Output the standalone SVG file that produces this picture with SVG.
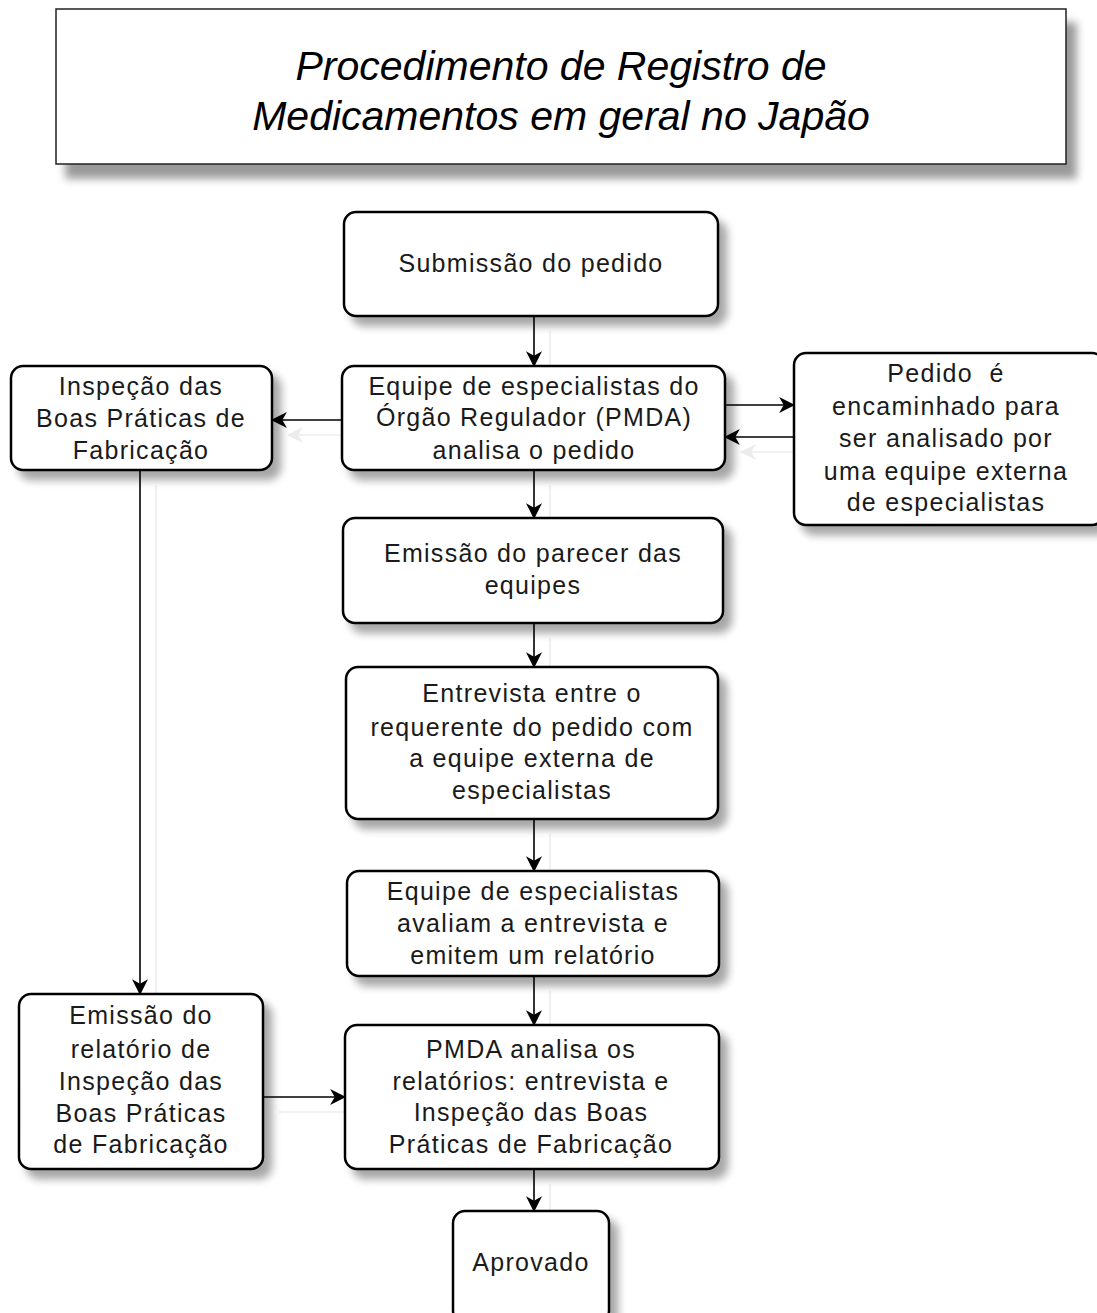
<svg xmlns="http://www.w3.org/2000/svg" width="1097" height="1313" viewBox="0 0 1097 1313">
  <defs>
    <filter id="shadow" x="-10%" y="-10%" width="130%" height="140%">
      <feGaussianBlur in="SourceAlpha" stdDeviation="4"/>
      <feOffset dx="8" dy="9" result="b"/>
      <feComponentTransfer><feFuncA type="linear" slope="0.35"/></feComponentTransfer>
      <feMerge><feMergeNode/><feMergeNode in="SourceGraphic"/></feMerge>
    </filter>
    <filter id="shadowTitle" x="-5%" y="-10%" width="115%" height="150%">
      <feGaussianBlur in="SourceAlpha" stdDeviation="4"/>
      <feOffset dx="10" dy="14" result="b"/>
      <feComponentTransfer><feFuncA type="linear" slope="0.4"/></feComponentTransfer>
      <feMerge><feMergeNode/><feMergeNode in="SourceGraphic"/></feMerge>
    </filter>
    <marker id="arr" viewBox="0 0 14 14" refX="13" refY="7" markerWidth="16" markerHeight="16" markerUnits="userSpaceOnUse" orient="auto">
      <path d="M0,0 L14,7 L0,14 L4,7 z" fill="#000"/>
    </marker>
    <marker id="arrGhost" viewBox="0 0 14 14" refX="13" refY="7" markerWidth="16" markerHeight="16" markerUnits="userSpaceOnUse" orient="auto">
      <path d="M0,0 L14,7 L0,14 L4,7 z" fill="#ececec"/>
    </marker>
    <style>
      .box { fill: #fff; stroke: #000; stroke-width: 2.5; }
      .title-box { fill: #fff; stroke: #222; stroke-width: 1.5; }
      .lbl { font-family: "Liberation Sans", Arial, sans-serif; font-size: 25px; letter-spacing: 1.3px; fill: #1a1a1a; text-anchor: middle; white-space: pre; }
      .title { font-family: "Liberation Sans", Arial, sans-serif; font-size: 41px; font-style: italic; fill: #000; text-anchor: middle; }
      .conn { stroke: #000; stroke-width: 1.6; fill: none; marker-end: url(#arr); }
      .ghost { stroke: #ececec; stroke-width: 1.6; fill: none; marker-end: url(#arrGhost); }
    </style>
  </defs>

  <rect width="1097" height="1313" fill="#fff"/>

  <!-- heading -->
  <g id="title">
    <rect class="title-box" x="56" y="9" width="1010" height="155" filter="url(#shadowTitle)"/>
    <text class="title" x="561" y="80">Procedimento de Registro de</text>
    <text class="title" x="561" y="130">Medicamentos em geral no Japão</text>
  </g>

  <!-- faint connector shadows -->
  <g id="connector-shadows" transform="translate(16,15)">
    <path class="ghost" d="M534,316 V366"/>
    <path class="ghost" d="M342,420 H272"/>
    <path class="ghost" d="M794,437 H725"/>
    <path class="ghost" d="M534,470 V518"/>
    <path class="ghost" d="M534,623 V667"/>
    <path class="ghost" d="M534,819 V871"/>
    <path class="ghost" d="M534,976 V1025"/>
    <path class="ghost" d="M140,470 V994"/>
    <path class="ghost" d="M263,1097 H345"/>
    <path class="ghost" d="M534,1169 V1211"/>
  </g>

  <!-- connectors -->
  <g id="connectors">
    <path class="conn" d="M534,316 V366"/>
    <path class="conn" d="M342,420 H272"/>
    <path class="conn" d="M725,405 H794"/>
    <path class="conn" d="M794,437 H725"/>
    <path class="conn" d="M534,470 V518"/>
    <path class="conn" d="M534,623 V667"/>
    <path class="conn" d="M534,819 V871"/>
    <path class="conn" d="M534,976 V1025"/>
    <path class="conn" d="M140,470 V994"/>
    <path class="conn" d="M263,1097 H345"/>
    <path class="conn" d="M534,1169 V1211"/>
  </g>

  <g id="submissao">
    <rect class="box" x="344" y="212" width="374" height="104" rx="12" filter="url(#shadow)"/>
    <text class="lbl" x="531" y="272">Submissão do pedido</text>
  </g>

  <g id="analise-pmda">
    <rect class="box" x="342" y="366" width="383" height="104" rx="12" filter="url(#shadow)"/>
    <text class="lbl" x="534" y="395">Equipe de especialistas do</text>
    <text class="lbl" x="534" y="426">Órgão Regulador (PMDA)</text>
    <text class="lbl" x="534" y="459">analisa o pedido</text>
  </g>

  <g id="inspecao-bpf">
    <rect class="box" x="11" y="366" width="261" height="104" rx="12" filter="url(#shadow)"/>
    <text class="lbl" x="141" y="395">Inspeção das</text>
    <text class="lbl" x="141" y="427">Boas Práticas de</text>
    <text class="lbl" x="141" y="459">Fabricação</text>
  </g>

  <g id="equipe-externa">
    <rect class="box" x="794" y="353" width="310" height="172" rx="12" filter="url(#shadow)"/>
    <text class="lbl" x="946" y="382">Pedido  é</text>
    <text class="lbl" x="946" y="415">encaminhado para</text>
    <text class="lbl" x="946" y="447">ser analisado por</text>
    <text class="lbl" x="946" y="480">uma equipe externa</text>
    <text class="lbl" x="946" y="511">de especialistas</text>
  </g>

  <g id="parecer">
    <rect class="box" x="343" y="518" width="380" height="105" rx="12" filter="url(#shadow)"/>
    <text class="lbl" x="533" y="562">Emissão do parecer das</text>
    <text class="lbl" x="533" y="594">equipes</text>
  </g>

  <g id="entrevista">
    <rect class="box" x="346" y="667" width="372" height="152" rx="12" filter="url(#shadow)"/>
    <text class="lbl" x="532" y="702">Entrevista entre o</text>
    <text class="lbl" x="532" y="736">requerente do pedido com</text>
    <text class="lbl" x="532" y="767">a equipe externa de</text>
    <text class="lbl" x="532" y="799">especialistas</text>
  </g>

  <g id="avaliacao">
    <rect class="box" x="347" y="871" width="372" height="105" rx="12" filter="url(#shadow)"/>
    <text class="lbl" x="533" y="900">Equipe de especialistas</text>
    <text class="lbl" x="533" y="932">avaliam a entrevista e</text>
    <text class="lbl" x="533" y="964">emitem um relatório</text>
  </g>

  <g id="relatorio-bpf">
    <rect class="box" x="19" y="994" width="244" height="175" rx="12" filter="url(#shadow)"/>
    <text class="lbl" x="141" y="1024">Emissão do</text>
    <text class="lbl" x="141" y="1058">relatório de</text>
    <text class="lbl" x="141" y="1090">Inspeção das</text>
    <text class="lbl" x="141" y="1122">Boas Práticas</text>
    <text class="lbl" x="141" y="1153">de Fabricação</text>
  </g>

  <g id="analise-relatorios">
    <rect class="box" x="345" y="1025" width="374" height="144" rx="12" filter="url(#shadow)"/>
    <text class="lbl" x="531" y="1058">PMDA analisa os</text>
    <text class="lbl" x="531" y="1090">relatórios: entrevista e</text>
    <text class="lbl" x="531" y="1121">Inspeção das Boas</text>
    <text class="lbl" x="531" y="1153">Práticas de Fabricação</text>
  </g>

  <g id="aprovado">
    <rect class="box" x="453" y="1211" width="156" height="112" rx="12" filter="url(#shadow)"/>
    <text class="lbl" x="531" y="1271">Aprovado</text>
  </g>
</svg>
